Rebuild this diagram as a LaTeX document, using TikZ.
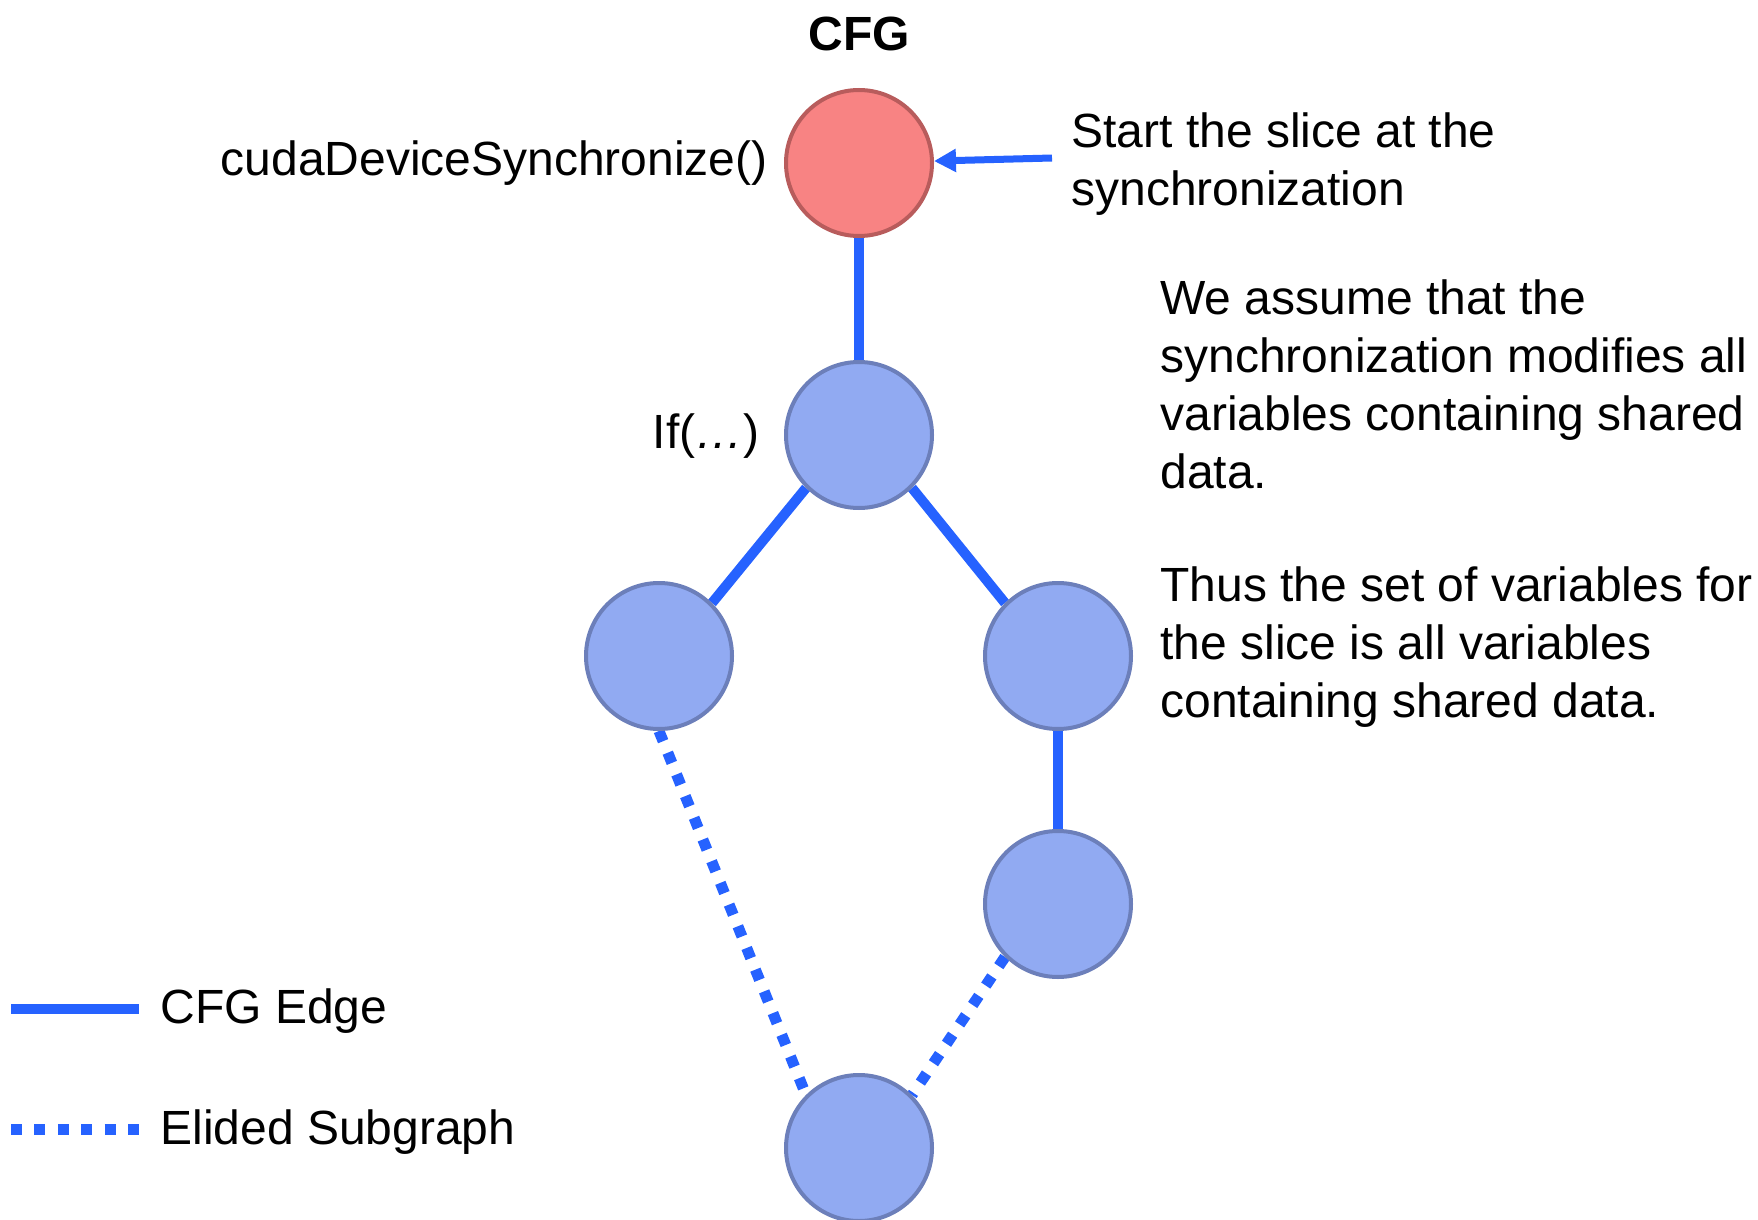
\documentclass[tikz,border=0pt]{standalone}
\usepackage{fontspec}
\setmainfont{Liberation Sans}
\usetikzlibrary{arrows.meta}
\pgfdeclarelayer{background}
\pgfsetlayers{background,main}

\definecolor{edgeblue}{RGB}{38,98,255}
\definecolor{nodefill}{RGB}{145,170,242}
\definecolor{nodeedge}{RGB}{108,127,186}
\definecolor{startfill}{RGB}{248,131,131}
\definecolor{startedge}{RGB}{184,92,92}

\begin{document}
\begin{tikzpicture}[x=0.5pt,y=-0.5pt,
  cfgnode/.style={circle, minimum size=73pt, inner sep=0pt, line width=2pt,
                  draw=nodeedge, fill=nodefill},
  startnode/.style={cfgnode, draw=startedge, fill=startfill},
  cfgedge/.style={draw=edgeblue, line width=5pt},
  elided/.style={draw=edgeblue, line width=5.5pt, dash pattern=on 5.5pt off 6.2pt},
  txt/.style={inner sep=0pt, font=\fontsize{24}{29}\selectfont},
  para/.style={txt, align=left, anchor=north west},
  pointer/.style={draw=edgeblue, line width=3.5pt,
                  -{Triangle[length=11pt,width=11pt]}},
]
\useasboundingbox (0,0) rectangle (1758,1220);

% graph nodes
\node[startnode] (sync) at (859,163) {};
\node[cfgnode] (if) at (859,435) {};
\node[cfgnode] (left) at (659,656) {};
\node[cfgnode] (right) at (1058,656) {};
\node[cfgnode] (rightlow) at (1058,904) {};
\node[cfgnode] (join) at (859,1148) {};

% edges between connection points, kept under the nodes
\begin{pgfonlayer}{background}
  \draw[cfgedge] (sync.south) -- (if.north);
  \draw[cfgedge] (if.south west) -- (left.north east);
  \draw[cfgedge] (if.south east) -- (right.north west);
  \draw[cfgedge] (right.south) -- (rightlow.north);
  \draw[elided] (left.south) -- (join.north west);
  \draw[elided] (rightlow.south west) -- (join.north east);
\end{pgfonlayer}

% labels
\node[txt, font=\fontsize{24}{29}\selectfont\bfseries, anchor=base] (title) at (859,51) {CFG};
\node[txt, anchor=base east] (synclabel) at (768,176) {cudaDeviceSynchronize()};
\node[txt, anchor=base east] (iflabel) at (760,448) {If(\textit{…})};

% annotation with pointer
\node[para] (startnote) at (1071,112) {Start the slice at the\\synchronization};
\coordinate (pstart) at (1052,158);
\draw[pointer] (pstart) -- (sync);

\node[para] (assume) at (1160,279) {We assume that the\\synchronization modifies all\\variables containing shared\\data.};
\node[para] (thus) at (1160,566) {Thus the set of variables for\\the slice is all variables\\containing shared data.};

% legend
\coordinate (la) at (11,1009);
\coordinate (lb) at (139,1009);
\coordinate (lc) at (11,1129);
\coordinate (ld) at (139,1129);
\draw[cfgedge] (la) -- (lb);
\draw[elided] (lc) -- (ld);
\node[txt, anchor=base west] (legendedge) at (160,1023) {CFG Edge};
\node[txt, anchor=base west] (legendelided) at (160,1144) {Elided Subgraph};
\end{tikzpicture}
\end{document}
